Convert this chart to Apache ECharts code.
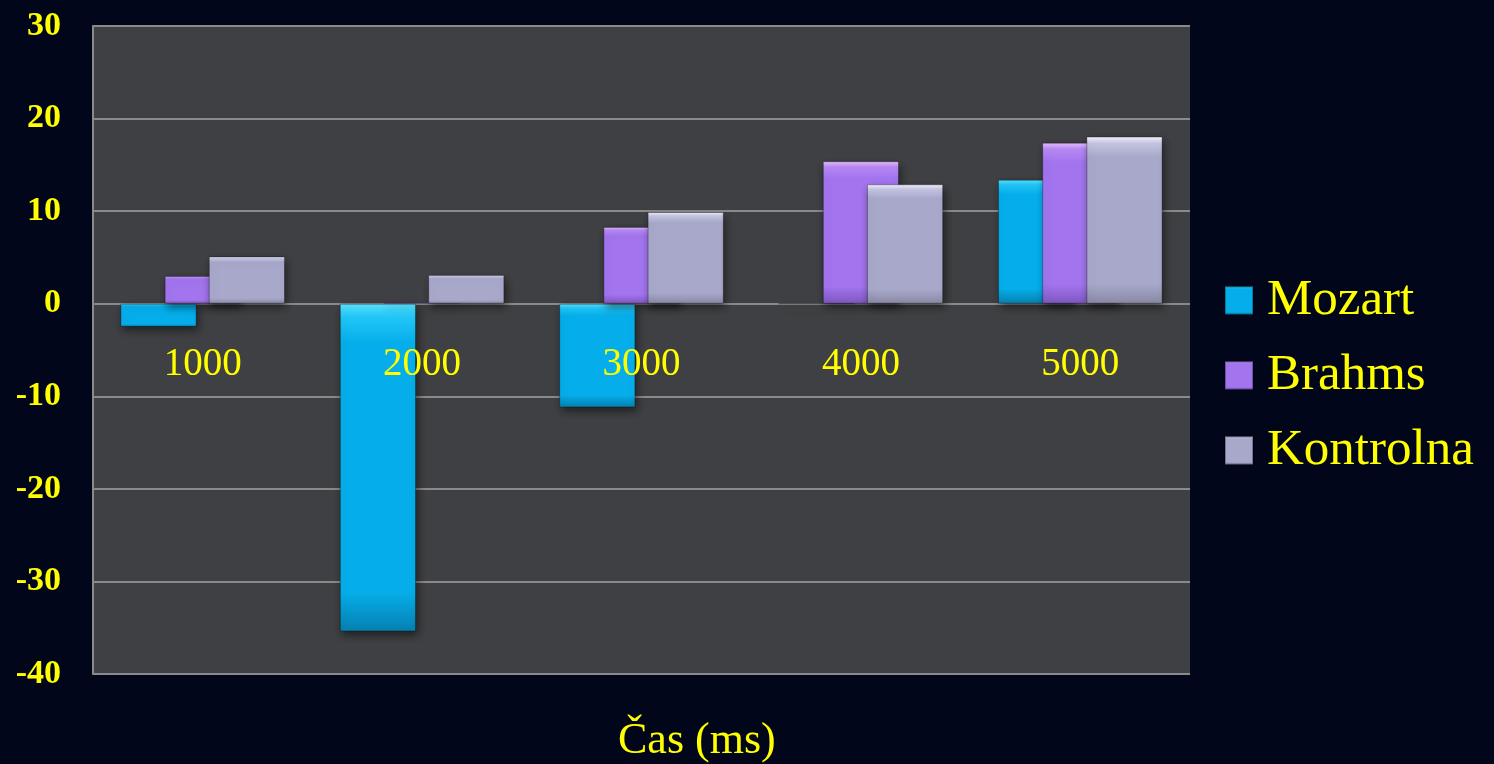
<!DOCTYPE html>
<html>
<head>
<meta charset="utf-8">
<script src="https://cdn.jsdelivr.net/npm/echarts@6/dist/echarts.min.js"></script>
<style>
html,body{margin:0;padding:0;background:#01061a;}
#chart{width:1494px;height:764px;}
</style>
</head>
<body>
<div id="chart"></div>
<script>
var categories = ['1000', '2000', '3000', '4000', '5000'];
var seriesNames = ['Mozart', 'Brahms', 'Kontrolna'];
var mozart = [-2.5, -35.4, -11.2, 0, 13.4];
var brahms = [3.0, 0.15, 8.3, 15.4, 17.4];
var kontrolna = [5.1, 3.1, 9.9, 12.9, 18.05];
var yTicks = { min: -40, max: 30, interval: 10 };
var axisTitle = 'Čas (ms)';

function grad(top, hi, mid, bot) {
  return new echarts.graphic.LinearGradient(0, 0, 0, 1, [
    { offset: 0, color: top },
    { offset: 0.04, color: hi },
    { offset: 0.12, color: mid },
    { offset: 0.88, color: mid },
    { offset: 1, color: bot }
  ]);
}
var colors = [
  grad('#5ae4ff', '#22c6f8', '#05aeea', '#0680b0'),
  grad('#e6c0ff', '#b98af6', '#a274ee', '#7f56c0'),
  grad('#f6f6ff', '#c6c6e4', '#a8a8cb', '#8888a4')
];
var serif = '"Liberation Serif", "DejaVu Serif", serif';

function mk(name, data, i) {
  return {
    name: name,
    type: 'bar',
    data: data,
    barGap: '-42%',
    barCategoryGap: '25%',
    itemStyle: {
      color: colors[i],
      borderColor: 'rgba(0,0,0,0.3)',
      borderWidth: 1,
      shadowBlur: 8,
      shadowOffsetY: 4,
      shadowOffsetX: 2,
      shadowColor: 'rgba(0,0,0,0.5)'
    }
  };
}

var gridTop = 26, gridBottom = 90, H = 764;
var plotH = H - gridTop - gridBottom;
var zeroFromBottom = plotH * (0 - yTicks.min) / (yTicks.max - yTicks.min);

var chart = echarts.init(document.getElementById('chart'));
chart.setOption({
  backgroundColor: '#01061a',
  animation: false,
  grid: {
    left: 93, top: gridTop, right: 304, bottom: gridBottom,
    show: true, backgroundColor: '#3f4043', borderWidth: 0
  },
  legend: {
    orient: 'vertical',
    left: 1224,
    top: 275,
    padding: 0,
    itemWidth: 28,
    itemHeight: 28,
    itemGap: 24,
    icon: 'rect',
    textStyle: { color: '#ffff00', fontFamily: serif, fontSize: 51, padding: [0, 0, 0, 9] },
    data: seriesNames
  },
  xAxis: {
    type: 'category',
    data: categories,
    z: 5,
    offset: -zeroFromBottom,
    axisLine: { show: false, onZero: false },
    axisTick: { show: false },
    axisLabel: { color: '#ffff00', fontFamily: serif, fontSize: 39, margin: 42 }
  },
  yAxis: {
    type: 'value',
    min: yTicks.min, max: yTicks.max, interval: yTicks.interval,
    axisLine: { show: true, lineStyle: { color: '#8a8a8a', width: 2 } },
    axisTick: { show: false },
    splitLine: { show: true, lineStyle: { color: '#8a8a8a', width: 2 } },
    axisLabel: { color: '#ffff00', fontFamily: serif, fontSize: 34, fontWeight: 'bold', margin: 32 }
  },
  graphic: [{
    type: 'text', left: 618, top: 719, z: 10,
    style: { text: axisTitle, fill: '#ffff00', font: '44px ' + serif }
  }],
  series: [mk(seriesNames[0], mozart, 0), mk(seriesNames[1], brahms, 1), mk(seriesNames[2], kontrolna, 2)]
});
</script>
</body>
</html>
